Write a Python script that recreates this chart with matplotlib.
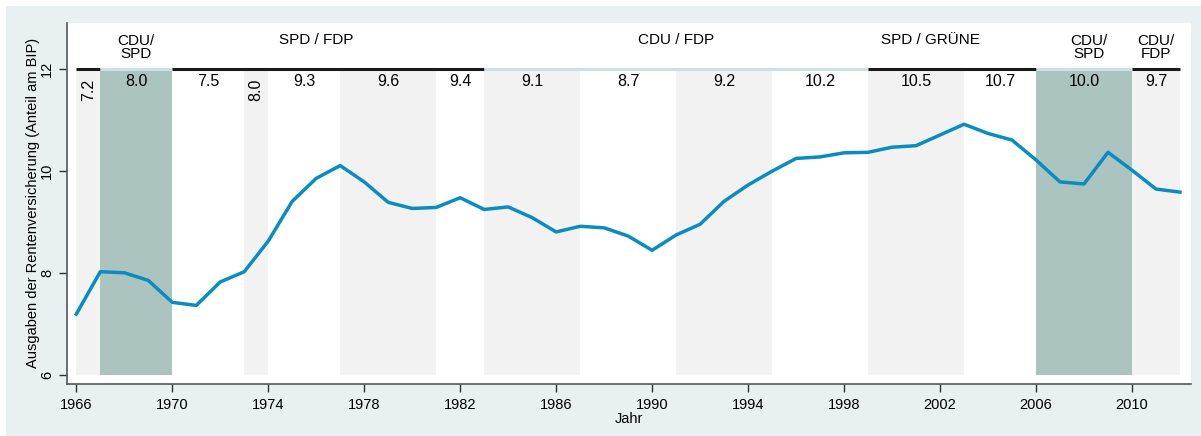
import numpy as np
import matplotlib
matplotlib.use("Agg")
from matplotlib import pyplot as plt
from matplotlib.patches import Rectangle

plt.rcParams['font.family'] = ['Liberation Sans', 'DejaVu Sans']

# Ausgaben der Rentenversicherung, Anteil am BIP
years = list(range(1966, 2013))
values = [7.19, 8.02, 8.00, 7.85, 7.42, 7.36, 7.82, 8.02, 8.62, 9.40,
          9.85, 10.10, 9.78, 9.38, 9.26, 9.28, 9.47, 9.24, 9.29, 9.08,
          8.80, 8.91, 8.88, 8.72, 8.44, 8.74, 8.95, 9.40, 9.72, 9.99,
          10.24, 10.27, 10.35, 10.36, 10.46, 10.49, 10.70, 10.91, 10.73, 10.60,
          10.21, 9.78, 9.74, 10.36, 10.01, 9.64, 9.58]

# Legislaturperioden: Beginn, Ende, Durchschnitt, Art der Schattierung
period_start = [1966, 1967, 1970, 1973, 1974, 1977, 1981, 1983, 1987, 1991, 1995, 1999, 2003, 2006, 2010]
period_end = [1967, 1970, 1973, 1974, 1977, 1981, 1983, 1987, 1991, 1995, 1999, 2003, 2006, 2010, 2012]
period_avg = ['7.2', '8.0', '7.5', '8.0', '9.3', '9.6', '9.4', '9.1', '8.7', '9.2', '10.2', '10.5', '10.7', '10.0', '9.7']
period_kind = ['gray', 'grand', 'white', 'gray', 'white', 'gray', 'white', 'gray', 'white', 'gray',
               'white', 'gray', 'white', 'grand', 'gray']

# Koalitionen
coal_start = [1966, 1967, 1970, 1983, 1999, 2006, 2010]
coal_end = [1967, 1970, 1983, 1999, 2006, 2010, 2012]
coal_name = ['', 'CDU/\nSPD', 'SPD / FDP', 'CDU / FDP', 'SPD / GRÜNE', 'CDU/\nSPD', 'CDU/\nFDP']
coal_xpos = [1966.5, 1968.5, 1976.0, 1991.0, 2001.6, 2008.2, 2011.0]
coal_dark = [True, False, True, False, True, False, True]

bg = '#e8f0f2'
line_col = '#0b8cc1'
fill_col = {'gray': '#f2f2f2', 'grand': '#acc4c0', 'white': 'white'}

fig = plt.figure(figsize=(12.01, 4.36), dpi=100, facecolor='white')
fig.patches.append(Rectangle((6 / 1201, 0), 1, 1 - 6 / 436, transform=fig.transFigure,
                             facecolor=bg, edgecolor='none', zorder=-10))
ax = fig.add_axes([66.7 / 1201, 1 - 384 / 436, (1191 - 66.7) / 1201, (384 - 22.7) / 436])
ax.set_facecolor('white')

for s, e, avg, kind in zip(period_start, period_end, period_avg, period_kind):
    ax.fill_between([s, e], 6, 12, color=fill_col[kind], lw=0, zorder=1)
    if e - s == 1:
        ax.text((s + e) / 2, 11.58, avg, rotation=90, ha='center', va='center', fontsize=11.5, zorder=5)
    else:
        ax.text((s + e) / 2, 11.74, avg, ha='center', va='center', fontsize=11.5, zorder=5)

for s, e, name, xp, dark in zip(coal_start, coal_end, coal_name, coal_xpos, coal_dark):
    ax.plot([s, e], [12, 12], color='#1a1a1a' if dark else '#cfe0e4', lw=2.2,
            solid_capstyle='butt', zorder=3)
    if name:
        yy = 12.41 if '\n' in name else 12.56
        ax.text(xp, yy, name, ha='center', va='center', fontsize=11, linespacing=0.9, zorder=5)

ax.plot(years, values, color=line_col, lw=2.5, zorder=4)

ax.set_xlim(1965.6, 2012.46)
ax.set_ylim(5.82, 12.9)
ax.set_xticks(range(1966, 2011, 4))
ax.set_yticks([6, 8, 10, 12])
ax.set_yticklabels(['6', '8', '10', '12'], rotation=90, va='center')
ax.tick_params(axis='both', labelsize=10.5, color='#333333', length=6, width=1)
ax.tick_params(axis='x', pad=4)
ax.tick_params(axis='y', pad=3)
for side in ['top', 'right']:
    ax.spines[side].set_visible(False)
for side in ['left', 'bottom']:
    ax.spines[side].set_color('#555555')
    ax.spines[side].set_linewidth(1.2)

ax.set_xlabel('Jahr', fontsize=10.5, labelpad=0)
ax.set_ylabel('Ausgaben der Rentenversicherung (Anteil am BIP)', fontsize=10.5, labelpad=0)

plt.savefig('out.png', dpi=100, facecolor=fig.get_facecolor())
